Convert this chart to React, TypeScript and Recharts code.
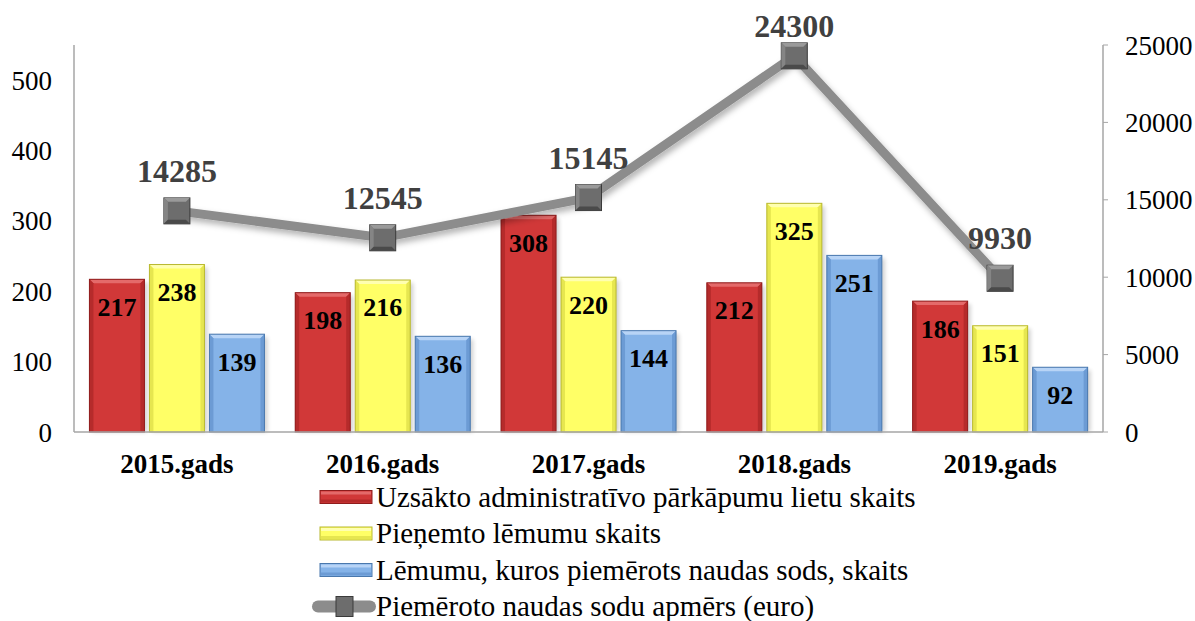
import React from 'react';
import { ComposedChart, Bar, Line, XAxis, YAxis, LabelList, Legend } from 'recharts';

const categories = ['2015.gads', '2016.gads', '2017.gads', '2018.gads', '2019.gads'];
const casesStarted = [217, 198, 308, 212, 186];
const decisionsTaken = [238, 216, 220, 325, 151];
const fineDecisions = [139, 136, 144, 251, 92];
const fineAmounts = [14285, 12545, 15145, 24300, 9930];
const leftTicks = [0, 100, 200, 300, 400, 500];
const rightTicks = [0, 5000, 10000, 15000, 20000, 25000];

const seriesNames = [
  'Uzsākto administratīvo pārkāpumu lietu skaits',
  'Pieņemto lēmumu skaits',
  'Lēmumu, kuros piemērots naudas sods, skaits',
  'Piemēroto naudas sodu apmērs (euro)',
];

const data = categories.map((c, i) => ({
  name: c,
  a: casesStarted[i],
  b: decisionsTaken[i],
  c: fineDecisions[i],
  d: fineAmounts[i],
}));

const FONT = '"Liberation Serif", serif';

const palettes = {
  red: { main: '#d13838', light: '#e46a6a', dark: '#8f1c1c', side: '#b52b2b' },
  yellow: { main: '#ffff66', light: '#ffffb0', dark: '#b8b830', side: '#e6e650' },
  blue: { main: '#85b3e8', light: '#b8d4f6', dark: '#4a78ad', side: '#6c9bd4' },
};

const bevelShape = (p: { main: string; light: string; dark: string; side: string }) => (props: any) => {
  const { x, y, width: w, height: h } = props;
  if (h <= 0) return <g />;
  const b = 4;
  return (
    <g>
      <rect x={x + 3} y={y + 3} width={w} height={h - 3} fill="#000" opacity={0.18} filter="url(#blur)" />
      <rect x={x} y={y} width={w} height={h} fill={p.main} />
      <polygon points={`${x},${y} ${x + w},${y} ${x + w - b},${y + b} ${x + b},${y + b}`} fill={p.light} />
      <polygon points={`${x},${y} ${x + b},${y + b} ${x + b},${y + h} ${x},${y + h}`} fill={p.side} />
      <polygon points={`${x + w},${y} ${x + w},${y + h} ${x + w - b},${y + h} ${x + w - b},${y + b}`} fill={p.side} />
      <rect x={x} y={y} width={w} height={h} fill="none" stroke={p.dark} strokeWidth={1} />
    </g>
  );
};

const SquareDot = (props: any) => {
  const { cx, cy } = props;
  if (cx == null || cy == null) return <g />;
  const s = 26;
  const x = cx - s / 2;
  const y = cy - s / 2;
  const b = 4;
  return (
    <g>
      <rect x={x} y={y} width={s} height={s} fill="#6d6d6d" stroke="#3a3a3a" strokeWidth={1} />
      <polygon points={`${x},${y} ${x + s},${y} ${x + s - b},${y + b} ${x + b},${y + b}`} fill="#9a9a9a" />
      <polygon points={`${x},${y} ${x + b},${y + b} ${x + b},${y + s - b} ${x},${y + s}`} fill="#858585" />
      <polygon points={`${x},${y + s} ${x + s},${y + s} ${x + s - b},${y + s - b} ${x + b},${y + s - b}`} fill="#4a4a4a" />
    </g>
  );
};

const LineLabel = (props: any) => {
  const { x, y, value } = props;
  if (x == null || y == null) return null;
  const baseline = Math.max(y - 29, 37);
  return (
    <text x={x} y={baseline} textAnchor="middle" fontFamily={FONT} fontSize={32} fontWeight="bold" fill="#404040">
      {value}
    </text>
  );
};

const LegendContent = () => {
  const fills = [palettes.red, palettes.yellow, palettes.blue];
  return (
    <svg width={700} height={150} style={{ overflow: 'visible' }}>
      {seriesNames.map((n, i) => {
        const cy = 10 + i * 36.5;
        return (
          <g key={n}>
            {i < 3 ? (
              <g>
                <rect x={8} y={cy - 6.5} width={52} height={13} fill={fills[i].main} stroke={fills[i].dark} strokeWidth={1} />
                <rect x={9} y={cy - 5.5} width={50} height={3} fill={fills[i].light} />
                <rect x={9} y={cy + 2.5} width={50} height={3} fill={fills[i].side} />
              </g>
            ) : (
              <g>
                <line x1={6} y1={cy} x2={58} y2={cy} stroke="#8c8c8c" strokeWidth={12} strokeLinecap="round" />
                <rect x={24} y={cy - 10} width={17} height={20} fill="#6d6d6d" stroke="#3a3a3a" strokeWidth={1} />
              </g>
            )}
            <text x={64} y={cy + 9.5} fontFamily={FONT} fontSize={29} fill="#000">{n}</text>
          </g>
        );
      })}
    </svg>
  );
};

const tickFont = { fontFamily: FONT, fontSize: 27, fill: '#000' };
const barLabel = { fontFamily: FONT, fontSize: 26, fontWeight: 'bold', fill: '#000' };

export default function App() {
  return (
    <div style={{ position: 'absolute', left: 0, top: 0, background: '#fff', fontFamily: FONT }}>
      <ComposedChart
        width={1195}
        height={621}
        data={data}
        margin={{ top: 45, right: 0, bottom: 149, left: 0 }}
        barGap={5}
        barCategoryGap="7.5%"
        style={{ fontFamily: FONT }}
      >
        <defs>
          <filter id="blur" x="-20%" y="-20%" width="140%" height="140%">
            <feGaussianBlur stdDeviation="2" />
          </filter>
          <filter id="lineShadow" x="-10%" y="-20%" width="120%" height="140%">
            <feDropShadow dx="2" dy="4" stdDeviation="3" floodColor="#000" floodOpacity="0.3" />
          </filter>
        </defs>
        <XAxis
          dataKey="name"
          height={40}
          tickLine={false}
          tickSize={0}
          tickMargin={22}
          axisLine={{ stroke: '#a6a6a6', strokeWidth: 1.5 }}
          tick={{ ...tickFont, fontWeight: 'bold' }}
        />
        <YAxis
          yAxisId="left"
          width={74}
          domain={[0, 550]}
          ticks={leftTicks}
          tickLine={false}
          tickSize={0}
          tickMargin={22}
          axisLine={{ stroke: '#a6a6a6', strokeWidth: 1.5 }}
          tick={tickFont}
        />
        <YAxis
          yAxisId="right"
          orientation="right"
          width={92}
          domain={[0, 25000]}
          ticks={rightTicks}
          tickLine={{ stroke: '#a6a6a6' }}
          tickSize={5}
          tickMargin={17}
          axisLine={{ stroke: '#a6a6a6', strokeWidth: 1.5 }}
          tick={tickFont}
        />
        <Bar yAxisId="left" dataKey="a" name={seriesNames[0]} fill={palettes.red.main} shape={bevelShape(palettes.red)} isAnimationActive={false}>
          <LabelList dataKey="a" position="insideTop" offset={18} fontFamily={FONT} style={barLabel} />
        </Bar>
        <Bar yAxisId="left" dataKey="b" name={seriesNames[1]} fill={palettes.yellow.main} shape={bevelShape(palettes.yellow)} isAnimationActive={false}>
          <LabelList dataKey="b" position="insideTop" offset={18} fontFamily={FONT} style={barLabel} />
        </Bar>
        <Bar yAxisId="left" dataKey="c" name={seriesNames[2]} fill={palettes.blue.main} shape={bevelShape(palettes.blue)} isAnimationActive={false}>
          <LabelList dataKey="c" position="insideTop" offset={18} fontFamily={FONT} style={barLabel} />
        </Bar>
        <Line
          yAxisId="right"
          dataKey="d"
          name={seriesNames[3]}
          type="linear"
          stroke="#8c8c8c"
          strokeWidth={9}
          filter="url(#lineShadow)"
          dot={<SquareDot />}
          activeDot={false}
          isAnimationActive={false}
        >
          <LabelList dataKey="d" content={<LineLabel />} />
        </Line>
        <Legend
          verticalAlign="middle"
          layout="horizontal"
          wrapperStyle={{ position: 'absolute', top: 486.5, left: 312, width: 700, height: 150 }}
          content={<LegendContent />}
        />
      </ComposedChart>
    </div>
  );
}
